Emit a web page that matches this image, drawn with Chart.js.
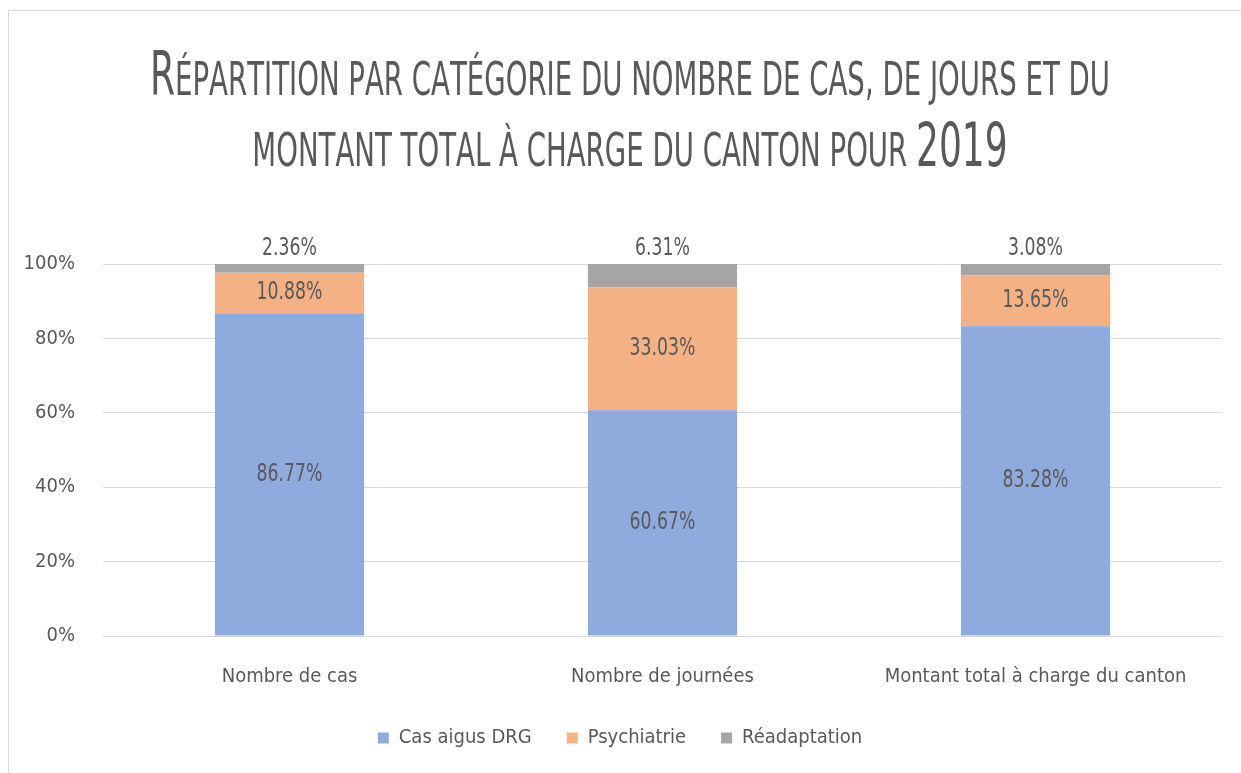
<!DOCTYPE html>
<html>
<head>
  <meta charset="UTF-8">
  <title>Répartition par catégorie 2019</title>
  <script src="https://cdn.jsdelivr.net/npm/chart.js"></script>
</head>
<body style="margin:0;background:#fff">
  <div style="width:1241px;height:773px;position:relative">
    <canvas id="chart"></canvas>
  </div>
  <script>
    const categories = ['Nombre de cas', 'Nombre de journées', 'Montant total à charge du canton'];
    const casAigus = [86.77, 60.67, 83.28];
    const psychiatrie = [10.88, 33.03, 13.65];
    const readaptation = [2.36, 6.31, 3.08];
    const yTicks = [0, 20, 40, 60, 80, 100];
    const titleLines = [
      'Répartition par catégorie du nombre de cas, de jours et du',
      'montant total à charge du canton pour 2019'
    ];

    const FONT = "'Liberation Sans Narrow', 'Arial Narrow', 'DejaVu Sans Condensed', sans-serif";
    const TXT = '#595959';

    // title in small caps, squeezed to the width of the first line
    function layoutSmallCaps(ctx, text, big, small) {
      const parts = [];
      let total = 0;
      for (const ch of text) {
        const low = ch !== ch.toUpperCase() || ch === ' ' || ch === ',';
        const p = { t: ch.toUpperCase(), size: low ? small : big };
        ctx.font = p.size + 'px ' + FONT;
        p.w = ctx.measureText(p.t).width;
        total += p.w;
        parts.push(p);
      }
      return { parts, total };
    }
    function drawRun(ctx, run, cx, baseline, sx) {
      ctx.save();
      ctx.translate(cx - run.total * sx / 2, baseline);
      ctx.scale(sx, 1);
      let x = 0;
      run.parts.forEach(p => {
        ctx.font = p.size + 'px ' + FONT;
        ctx.fillText(p.t, x, 0);
        x += p.w;
      });
      ctx.restore();
    }

    const decor = {
      id: 'decor',
      beforeDraw(chart) {
        const ctx = chart.ctx;
        ctx.save();
        ctx.strokeStyle = '#D9D9D9';
        ctx.lineWidth = 1;
        ctx.strokeRect(8.5, 10.5, 1400, 900);
        ctx.restore();
      },
      afterDraw(chart) {
        const ctx = chart.ctx;
        ctx.save();
        ctx.fillStyle = TXT;
        ctx.textAlign = 'left';
        ctx.textBaseline = 'alphabetic';
        const r1 = layoutSmallCaps(ctx, titleLines[0], 60, 46);
        const r2 = layoutSmallCaps(ctx, titleLines[1], 60, 46);
        const sx = 960 / r1.total;
        drawRun(ctx, r1, 630, 95, sx);
        drawRun(ctx, r2, 630, 166, sx);
        ctx.restore();
      },
      afterDatasetsDraw(chart) {
        const ctx = chart.ctx;
        ctx.save();
        ctx.fillStyle = TXT;
        ctx.font = '24px ' + FONT;
        ctx.textAlign = 'center';
        chart.data.datasets.forEach((ds, i) => {
          const meta = chart.getDatasetMeta(i);
          meta.data.forEach((bar, j) => {
            const label = ds.data[j].toFixed(2) + '%';
            let y;
            if (i === 2) {
              ctx.textBaseline = 'bottom';
              y = chart.chartArea.top - 3;
            } else {
              ctx.textBaseline = 'middle';
              y = (bar.y + bar.base) / 2;
            }
            ctx.save();
            ctx.translate(bar.x, y);
            ctx.scale(0.8, 1);
            ctx.fillText(label, 0, 0);
            ctx.restore();
          });
        });
        ctx.restore();
      }
    };

    Chart.defaults.font.family = FONT;
    Chart.defaults.font.size = 20;
    Chart.defaults.color = TXT;

    new Chart(document.getElementById('chart'), {
      type: 'bar',
      data: {
        labels: categories,
        datasets: [
          { label: 'Cas aigus DRG', data: casAigus, backgroundColor: '#8FAADC' },
          { label: 'Psychiatrie', data: psychiatrie, backgroundColor: '#F4B183' },
          { label: 'Réadaptation', data: readaptation, backgroundColor: '#A5A5A5' }
        ]
      },
      options: {
        responsive: true,
        maintainAspectRatio: false,
        animation: false,
        layout: { padding: { top: 264, left: 18, right: 19, bottom: 15 } },
        datasets: { bar: { barPercentage: 0.4, categoryPercentage: 1 } },
        scales: {
          x: {
            stacked: true,
            grid: { display: false },
            border: { display: false },
            ticks: { padding: 21, maxRotation: 0 },
            afterFit(s) { s.height = 57; }
          },
          y: {
            stacked: true,
            min: 0,
            max: 100,
            afterBuildTicks(s) { s.ticks = yTicks.map(v => ({ value: v })); },
            ticks: { padding: 28, callback: v => v + '%' },
            grid: { color: '#D9D9D9', drawTicks: false },
            border: { display: false },
            afterFit(s) { s.width = 85; }
          }
        },
        plugins: {
          legend: {
            position: 'bottom',
            labels: { boxWidth: 11, boxHeight: 11, padding: 35, font: { size: 20 } }
          },
          tooltip: { enabled: false },
          title: { display: false }
        }
      },
      plugins: [decor]
    });
  </script>
</body>
</html>
